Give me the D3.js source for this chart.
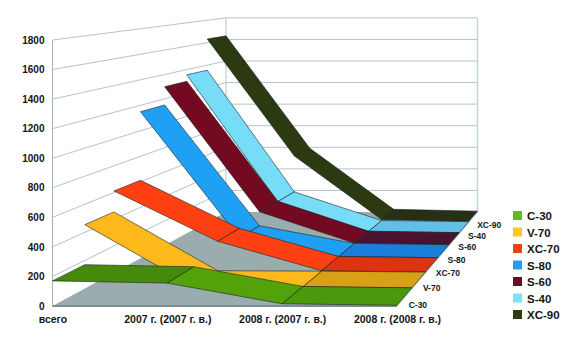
<!DOCTYPE html>
<html>
<head>
<meta charset="utf-8">
<script src="https://cdn.jsdelivr.net/npm/d3@7"></script>
<style>
  html, body { margin: 0; padding: 0; background: #fff; }
  svg { display: block; }
  text { font-family: "Liberation Sans", Arial, sans-serif; font-weight: bold; fill: #151515; }
</style>
</head>
<body>
<svg id="chart" width="580" height="351"></svg>
<script>
// Data
const categories = ["всего", "2007 г. (2007 г. в.)", "2008 г. (2007 г. в.)", "2008 г. (2008 г. в.)"];
const seriesNames = ["C-30", "V-70", "XC-70", "S-80", "S-60", "S-40", "XC-90"];
const c30 = [170, 155, 15, 5];
const v70 = [455, 15, 12, 5];
const xc70 = [612, 235, 15, 5];
const s80 = [1150, 160, 15, 5];
const s60 = [1300, 275, 18, 5];
const s40 = [1355, 270, 15, 5];
const xc90 = [1633, 590, 25, 8];
const seriesValues = [c30, v70, xc70, s80, s60, s40, xc90];
const yTicks = [0, 200, 400, 600, 800, 1000, 1200, 1400, 1600, 1800];

const legendColors = ["#66b81e", "#fcc824", "#f0401a", "#2a9cf0", "#6f0a24", "#7fe0f8", "#2e3b14"];
// one shade per segment of each ribbon
const segColors = [
  ["#468a0a", "#54a20a", "#4c980c"],
  ["#fdb91c", "#fdb91c", "#d8a016"],
  ["#ff4012", "#ff4012", "#dc3410"],
  ["#20a0f4", "#20a0f4", "#1a7fdc"],
  ["#730a22", "#730a22", "#4a1230"],
  ["#76dcf8", "#76dcf8", "#62c0e8"],
  ["#2c3a12", "#2c3a12", "#272f14"]
];

let chart = d3.select("#chart");

// front plane scales
let x = d3.scalePoint().domain(categories).range([52.5, 397]);
let y = d3.scaleLinear().domain([0, 1800]).range([306, 40]);
// depth, 0 = front wall edge, 1 = back wall
let z = d3.scaleBand().domain(seriesNames).range([0, 1]);

// perspective towards a vanishing point
const vanish = [695, -42];
const persp = 0.37;
function project(px, py, depth) {
  let s = 1 / (1 + persp * depth);
  return [vanish[0] + (px - vanish[0]) * s, vanish[1] + (py - vanish[1]) * s];
}
const xLeft = x.range()[0], xRight = x.range()[1];
const line = d3.line();

// walls grid
chart.append("g").selectAll("path")
  .data(yTicks.filter(function (t) { return t > 0; }))
  .enter()
  .append("path")
  .attr("d", function (t) {
    return line([project(xLeft, y(t), 0), project(xLeft, y(t), 1), project(xRight, y(t), 1)]);
  })
  .attr("fill", "none")
  .attr("stroke", "#b4c3c8")
  .attr("stroke-width", 1);

// wall verticals
chart.append("path")
  .attr("d", line([project(xLeft, y(0), 0), project(xLeft, y(1800), 0)]))
  .attr("stroke", "#a3b5ba").attr("stroke-width", 1);
chart.append("path")
  .attr("d", line([project(xLeft, y(0), 1), project(xLeft, y(1800), 1)]))
  .attr("stroke", "#b4c3c8").attr("stroke-width", 1);
chart.append("path")
  .attr("d", line([project(xRight, y(0), 1), project(xRight, y(1800), 1)]))
  .attr("stroke", "#c6d4da").attr("stroke-width", 1.5);

// floor
chart.append("path")
  .attr("d", line([project(xLeft, y(0), 0), project(xRight, y(0), 0), project(xRight, y(0), 1), project(xLeft, y(0), 1)]) + "Z")
  .attr("fill", "#9bacaf");
chart.append("path")
  .attr("d", line([project(xLeft, y(0), 0), project(xRight, y(0), 0)]))
  .attr("stroke", "#7c9094").attr("stroke-width", 2);
chart.append("path")
  .attr("d", line([project(xRight, y(0), 0), project(xRight, y(0), 1)]))
  .attr("stroke", "#c6d4da").attr("stroke-width", 1.5);

// ribbons, back series first
d3.range(seriesNames.length - 1, -1, -1).forEach(function (si) {
  let values = seriesValues[si];
  let z0 = z(seriesNames[si]), z1 = z0 + z.bandwidth();
  chart.append("g")
    .selectAll("path")
    .data(d3.range(categories.length - 1))
    .enter()
    .append("path")
    .attr("d", function (i) {
      let xa = x(categories[i]), xb = x(categories[i + 1]);
      return line([
        project(xa, y(values[i]), z0),
        project(xb, y(values[i + 1]), z0),
        project(xb, y(values[i + 1]), z1),
        project(xa, y(values[i]), z1)
      ]) + "Z";
    })
    .attr("fill", function (i) { return segColors[si][i]; })
    .attr("stroke", "#14231c")
    .attr("stroke-opacity", 0.85)
    .attr("stroke-width", 0.7)
    .attr("stroke-linejoin", "round");
});

// value axis
let yAxis = d3.axisLeft(y).tickValues(yTicks).tickSize(0).tickPadding(8).tickFormat(d3.format("d"));
let yAxisGroup = chart.append("g")
  .attr("transform", "translate(" + xLeft + ",0)")
  .call(yAxis);
yAxisGroup.select(".domain").remove();
yAxisGroup.selectAll("text").style("font-size", "10px").style("font-family", null);

// category axis
let xAxis = d3.axisBottom(x).tickSize(0).tickPadding(10);
let xAxisGroup = chart.append("g")
  .attr("transform", "translate(0," + y(0) + ")")
  .call(xAxis);
xAxisGroup.select(".domain").remove();
xAxisGroup.selectAll("text").style("font-size", "10.5px").style("font-family", null);

// depth labels
chart.append("g").selectAll("text")
  .data(seriesNames)
  .enter()
  .append("text")
  .text(function (d) { return d; })
  .attr("x", function (d) { return project(xRight, y(0), z(d) + z.bandwidth() / 2)[0] + 4; })
  .attr("y", function (d) { return project(xRight, y(0), z(d) + z.bandwidth() / 2)[1] + 11; })
  .style("font-size", "8.5px");

// legend
let legendY = d3.scalePoint().domain(seriesNames).range([216, 315]);
let legend = chart.append("g").selectAll("g")
  .data(seriesNames)
  .enter()
  .append("g")
  .attr("transform", function (d) { return "translate(513," + legendY(d) + ")"; });
legend.append("rect")
  .attr("x", 0).attr("y", -5)
  .attr("width", 9).attr("height", 9)
  .attr("fill", function (d, i) { return legendColors[i]; });
legend.append("text")
  .text(function (d) { return d; })
  .attr("x", 14).attr("y", 4)
  .style("font-size", "11.5px");
</script>
</body>
</html>
